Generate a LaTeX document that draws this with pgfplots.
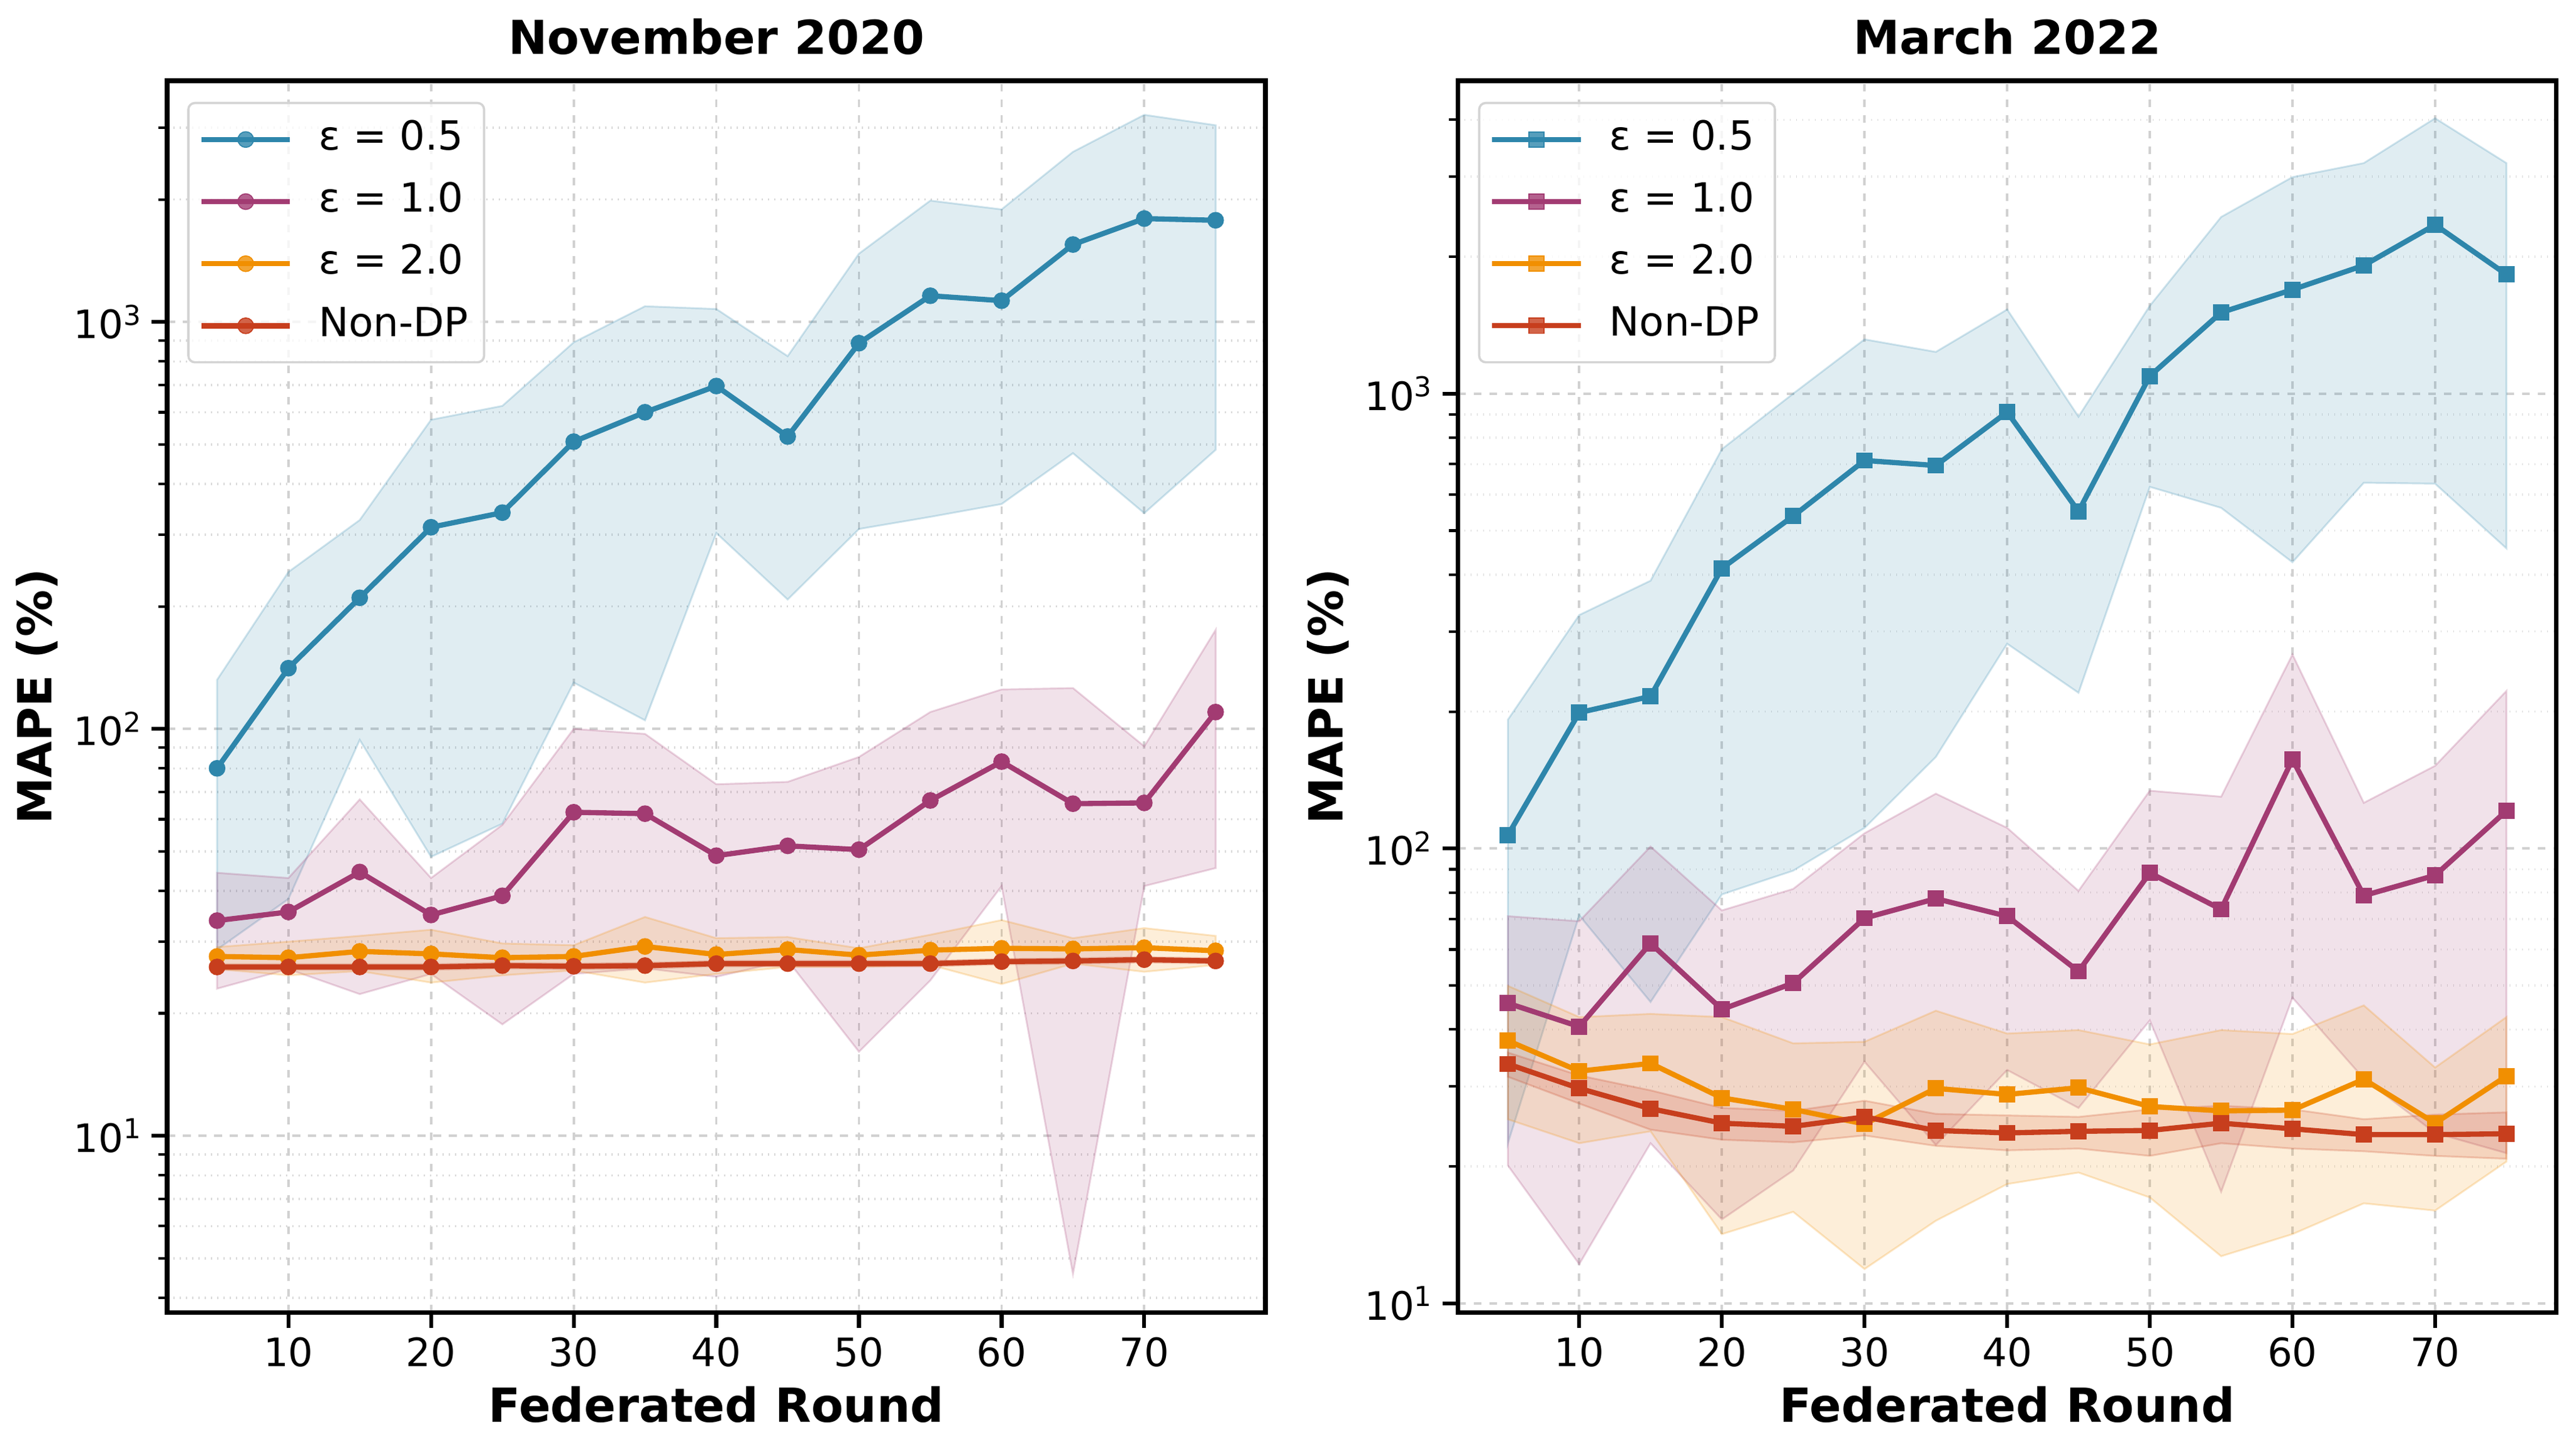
\documentclass[border=0pt]{standalone}
\usepackage{fontspec}
\setmainfont{DejaVu Sans}
\usepackage{pgfplots}
\pgfplotsset{compat=1.18}

\definecolor{cA}{HTML}{2E86AB}
\definecolor{cB}{HTML}{A23B72}
\definecolor{cC}{HTML}{F18F01}
\definecolor{cD}{HTML}{C73E1D}

\newcommand{\lf}{\fontsize{15.4}{18}\selectfont}

\pgfplotsset{
  ser/.style={color=#1, line width=2pt, mark size=3pt, mark options={line width=0.4pt, solid}},
  bnd/.style={fill=#1, fill opacity=0.15, draw=#1, draw opacity=0.22, line width=0.7pt, forget plot},
  mypanel/.style={
    scale only axis, width=421.2pt, height=472.2pt,
    xmin=1.5, xmax=78.5,
    xtick={10,20,30,40,50,60,70},
    ytick={10,100,1000},
    yticklabels={10\textsuperscript{1},10\textsuperscript{2},10\textsuperscript{3}},
    /pgf/number format/assume math mode=true,
    axis line style={line width=1.8pt},
    tick align=outside,
    xtick pos=left, ytick pos=left,
    major tick length=6pt, minor tick length=3.5pt,
    major tick style={line width=1.5pt, black},
    minor tick style={line width=1pt, black},
    xmajorgrids, ymajorgrids, yminorgrids,
    major grid style={dashed, black!18, line width=0.9pt},
    minor grid style={dotted, black!15, line width=0.8pt},
    tick label style={font=\fontsize{15}{17}\selectfont},
    title style={at={(axis description cs:0.5,1.023)}, anchor=center, yshift=0pt, font=\bfseries\fontsize{17.9}{21}\selectfont},
    xlabel style={at={(axis description cs:0.5,-0.0748)}, anchor=center, font=\bfseries\fontsize{18}{21}\selectfont},
    ylabel style={at={(axis description cs:-0.1185,0.5)}, anchor=center, font=\bfseries\fontsize{18}{21}\selectfont},
    xlabel={Federated Round}, ylabel={MAPE (\%)},
    legend style={at={(axis description cs:0.0183,0.9828)}, anchor=north west,
      draw=black!17, line width=0.86pt, rounded corners=2.5pt, fill=white,
      fill opacity=0.8, text opacity=1, draw opacity=1,
      inner xsep=4pt, inner ysep=4.5pt,
      row sep=4.8pt, column sep=8pt,
      nodes={inner sep=2pt, text height=11.5pt, text depth=3.5pt}},
    legend cell align=left,
    legend image code/.code={\draw[mark repeat=2,mark phase=2] plot coordinates {(0pt,0pt) (17pt,0pt) (34pt,0pt)};},
  }
}

\begin{document}
\begin{tikzpicture}
\path[use as bounding box] (0,0) rectangle (987.84pt,555.84pt);

% ================= November 2020 =================
\begin{axis}[ymode=log, mypanel, at={(64.1pt,52.7pt)}, anchor=south west,
  ymin=3.68, ymax=3917,
  minor ytick={4,5,6,7,8,9,20,30,40,50,60,70,80,90,200,300,400,500,600,700,800,900,2000,3000},
  title={November 2020}]
% bands: upper edge left to right, then lower edge right to left
\addplot[bnd=cA] coordinates {(5,132)(10,243)(15,326)(20,575)(25,622)(30,891)(35,1093)(40,1076)(45,824)(50,1472)(55,1987)(60,1891)(65,2618)(70,3229)(75,3044)
 (75,485)(70,339)(65,476)(60,357)(55,332)(50,310)(45,208)(40,303)(35,105)(30,130)(25,58.5)(20,48.5)(15,94)(10,38.2)(5,28.7)} -- cycle;
\addplot[bnd=cB] coordinates {(5,44.3)(10,43.0)(15,67.1)(20,43.0)(25,58.1)(30,100)(35,97.2)(40,73.1)(45,74.1)(50,85.3)(55,110)(60,125)(65,126)(70,90.6)(75,175)
 (75,45.5)(70,41.1)(65,4.58)(60,41.1)(55,24.1)(50,16.1)(45,27.0)(40,24.6)(35,25.8)(30,25.0)(25,18.8)(20,25.0)(15,22.3)(10,25.7)(5,23.0)} -- cycle;
\addplot[bnd=cC] coordinates {(5,29.1)(10,30.0)(15,31.0)(20,32.1)(25,29.7)(30,29.4)(35,34.5)(40,30.6)(45,30.8)(50,28.9)(55,31.2)(60,33.9)(65,30.6)(70,32.4)(75,31.0)
 (75,26.3)(70,25.3)(65,26.5)(60,23.6)(55,26.3)(50,26.0)(45,26.0)(40,25.0)(35,23.8)(30,25.5)(25,24.8)(20,23.8)(15,25.4)(10,24.8)(5,25.7)} -- cycle;
\addplot[bnd=cD] coordinates {(5,26.4)(10,26.4)(15,26.4)(20,26.4)(25,26.6)(30,26.5)(35,26.6)(40,26.9)(45,26.9)(50,26.9)(55,26.9)(60,27.2)(65,27.3)(70,27.5)(75,27.3)
 (75,26.5)(70,26.7)(65,26.5)(60,26.4)(55,26.1)(50,26.1)(45,26.1)(40,26.1)(35,25.8)(30,25.7)(25,25.8)(20,25.6)(15,25.6)(10,25.6)(5,25.6)} -- cycle;
% means
\addplot[ser=cA, mark=*] coordinates {(5,80)(10,141)(15,210)(20,313)(25,340)(30,508)(35,600)(40,696)(45,523)(50,887)(55,1160)(60,1128)(65,1550)(70,1795)(75,1778)};
\addlegendentry{\lf ε = 0.5}
\addplot[ser=cB, mark=*] coordinates {(5,33.8)(10,35.5)(15,44.5)(20,34.9)(25,38.9)(30,62.4)(35,61.9)(40,48.8)(45,51.6)(50,50.5)(55,66.7)(60,83.1)(65,65.5)(70,65.8)(75,110)};
\addlegendentry{\lf ε = 1.0}
\addplot[ser=cC, mark=*] coordinates {(5,27.6)(10,27.4)(15,28.4)(20,28.0)(25,27.4)(30,27.6)(35,29.2)(40,27.9)(45,28.7)(50,27.8)(55,28.6)(60,28.9)(65,28.8)(70,29.0)(75,28.5)};
\addlegendentry{\lf ε = 2.0}
\addplot[ser=cD, mark=*] coordinates {(5,26.0)(10,26.0)(15,26.0)(20,26.0)(25,26.2)(30,26.1)(35,26.2)(40,26.5)(45,26.5)(50,26.5)(55,26.5)(60,26.8)(65,26.9)(70,27.1)(75,26.9)};
\addlegendentry{\lf Non-DP}
\end{axis}

% ================= March 2022 =================
\begin{axis}[ymode=log, mypanel, at={(559.1pt,52.7pt)}, anchor=south west,
  ymin=9.55, ymax=4875,
  minor ytick={20,30,40,50,60,70,80,90,200,300,400,500,600,700,800,900,2000,3000,4000},
  title={March 2022}]
\addplot[bnd=cA] coordinates {(5,192)(10,326)(15,388)(20,755)(25,1000)(30,1316)(35,1235)(40,1531)(45,890)(50,1560)(55,2445)(60,2992)(65,3212)(70,4030)(75,3212)
 (75,457)(70,634)(65,637)(60,426)(55,561)(50,624)(45,220)(40,282)(35,159)(30,111)(25,89.4)(20,79.3)(15,46.0)(10,71.3)(5,22.5)} -- cycle;
\addplot[bnd=cB] coordinates {(5,71.0)(10,69.2)(15,101)(20,73.1)(25,81.5)(30,108)(35,132)(40,111)(45,80.7)(50,134)(55,130)(60,267)(65,126)(70,152)(75,222)
 (75,21.4)(70,23.7)(65,31.2)(60,47.0)(55,17.6)(50,41.9)(45,26.9)(40,32.6)(35,22.3)(30,34.0)(25,19.6)(20,15.3)(15,22.5)(10,12.2)(5,20.1)} -- cycle;
\addplot[bnd=cC] coordinates {(5,49.9)(10,42.6)(15,43.3)(20,42.6)(25,37.3)(30,37.6)(35,44.0)(40,39.2)(45,39.9)(50,37.1)(55,39.9)(60,39.1)(65,45.2)(70,33.0)(75,42.6)
 (75,20.5)(70,16.0)(65,16.6)(60,14.2)(55,12.7)(50,17.1)(45,19.4)(40,18.3)(35,15.2)(30,11.9)(25,15.9)(20,14.2)(15,23.9)(10,22.5)(5,25.4)} -- cycle;
\addplot[bnd=cD] coordinates {(5,35.6)(10,31.7)(15,29.4)(20,26.9)(25,26.5)(30,27.9)(35,26.1)(40,25.9)(45,25.7)(50,26.7)(55,27.2)(60,26.7)(65,25.4)(70,26.0)(75,26.3)
 (75,20.8)(70,21.1)(65,21.6)(60,21.9)(55,22.5)(50,21.1)(45,21.9)(40,21.7)(35,22.2)(30,23.4)(25,22.6)(20,22.9)(15,24.1)(10,27.5)(5,31.5)} -- cycle;
\addplot[ser=cA, mark=square*, mark size=2.9pt] coordinates {(5,107)(10,199)(15,216)(20,413)(25,538)(30,713)(35,695)(40,911)(45,551)(50,1093)(55,1508)(60,1693)(65,1914)(70,2350)(75,1828)};
\addlegendentry{\lf ε = 0.5}
\addplot[ser=cB, mark=square*, mark size=2.9pt] coordinates {(5,45.7)(10,40.6)(15,61.9)(20,44.3)(25,50.6)(30,70.3)(35,77.6)(40,71.0)(45,53.7)(50,88.4)(55,73.5)(60,157)(65,78.8)(70,87.3)(75,121)};
\addlegendentry{\lf ε = 1.0}
\addplot[ser=cC, mark=square*, mark size=2.9pt] coordinates {(5,37.8)(10,32.4)(15,33.7)(20,28.3)(25,26.7)(30,24.8)(35,29.7)(40,28.8)(45,29.8)(50,27.1)(55,26.5)(60,26.6)(65,31.1)(70,24.9)(75,31.6)};
\addlegendentry{\lf ε = 2.0}
\addplot[ser=cD, mark=square*, mark size=2.9pt] coordinates {(5,33.6)(10,29.7)(15,26.8)(20,24.9)(25,24.5)(30,25.7)(35,24.0)(40,23.7)(45,23.9)(50,24.0)(55,24.9)(60,24.2)(65,23.5)(70,23.5)(75,23.6)};
\addlegendentry{\lf Non-DP}
\end{axis}
\end{tikzpicture}
\end{document}
